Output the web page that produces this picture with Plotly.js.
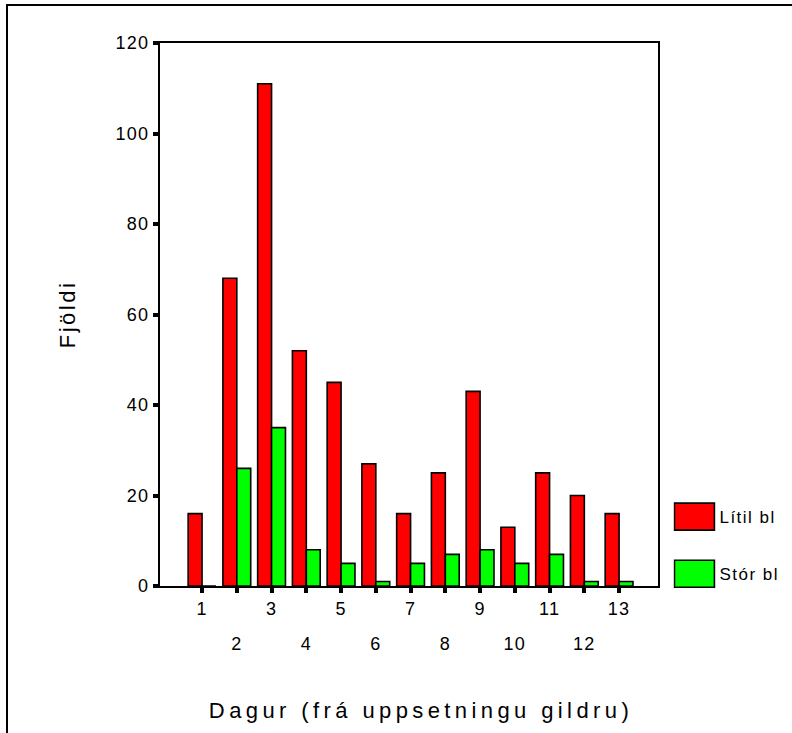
<!DOCTYPE html>
<html>
<head>
<meta charset="utf-8">
<script src="https://cdn.plot.ly/plotly-3.0.1.min.js"></script>
<style>
  html, body { margin: 0; padding: 0; background: #fff; overflow: hidden; }
  #wrap { position: relative; width: 792px; height: 733px; overflow: hidden; }
  #chart { width: 792px; height: 733px; }
  #frame { position: absolute; left: 6px; top: 4px; width: 900px; height: 900px;
           border-left: 2px solid #000; border-top: 2px solid #000; pointer-events: none; }
  .xtick text, .x2tick text, .ytick text { letter-spacing: 1.3px; }
  .xtitle { letter-spacing: 4.4px; transform: translateX(12px); }
  .ytitle { letter-spacing: 2.5px; }
  .legendtext { letter-spacing: 1.5px; }
</style>
</head>
<body>
<div id="wrap">
  <div id="chart"></div>
  <div id="frame"></div>
</div>
<script>
// ---- data ----
const days = [1, 2, 3, 4, 5, 6, 7, 8, 9, 10, 11, 12, 13];
const litilBl = [16, 68, 111, 52, 45, 27, 16, 25, 43, 13, 25, 20, 16];
const storBl  = [0, 26, 35, 8, 5, 1, 5, 7, 8, 5, 7, 1, 1];
const seriesNames = ['Lítil bl', 'Stór bl'];
const oddTicks = [1, 3, 5, 7, 9, 11, 13];
const evenTicks = [2, 4, 6, 8, 10, 12];
const yTicks = [0, 20, 40, 60, 80, 100, 120];
const xTitle = 'Dagur (frá uppsetningu gildru)';
const yTitle = 'Fjöldi';

const FONT = 'Arial, "Liberation Sans", sans-serif';

const traces = [
  {
    type: 'bar', x: days, y: litilBl, name: seriesNames[0], legendgroup: 'a',
    marker: { color: '#ff0000', line: { color: '#000', width: 1.6 } },
    hoverinfo: 'skip'
  },
  {
    type: 'bar', x: days, y: storBl, name: seriesNames[1], legendgroup: 'b',
    marker: { color: '#00ff00', line: { color: '#000', width: 1.6 } },
    hoverinfo: 'skip'
  },
  {
    type: 'scatter', mode: 'none', x: evenTicks, y: evenTicks.map(() => 0),
    xaxis: 'x2', yaxis: 'y', showlegend: false, hoverinfo: 'skip'
  }
];

const xr = [-0.21, 14.12];

const layout = {
  width: 792, height: 733,
  margin: { l: 160, r: 134, t: 43, b: 147, pad: 0, autoexpand: false },
  paper_bgcolor: '#fff', plot_bgcolor: '#fff',
  font: { family: FONT, color: '#000', size: 18 },
  barmode: 'group', bargap: 0.2, bargroupgap: 0,
  showlegend: true,
  legend: {
    x: 1.031, xanchor: 'left', y: 0.16, yanchor: 'top',
    font: { family: FONT, size: 17, color: '#000' },
    traceorder: 'grouped', tracegroupgap: 32, itemwidth: 36,
    bgcolor: 'rgba(0,0,0,0)', borderwidth: 0
  },
  xaxis: {
    range: xr, tickmode: 'array', tickvals: days,
    ticktext: days.map(d => (d % 2 === 1 ? String(d) : '')),
    ticks: 'outside', ticklen: 5, tickwidth: 4, tickcolor: '#000',
    showline: true, linecolor: '#000', linewidth: 2, mirror: true,
    showgrid: false, zeroline: false, fixedrange: true,
    tickfont: { family: FONT, size: 18, color: '#000' },
    ticklabelstandoff: 0,
    title: { text: xTitle, font: { family: FONT, size: 22, color: '#000' }, standoff: 85 }
  },
  xaxis2: {
    overlaying: 'x', anchor: 'y', side: 'bottom', range: xr,
    tickmode: 'array', tickvals: evenTicks, ticktext: evenTicks.map(String),
    ticks: '', showline: false, showgrid: false, zeroline: false, fixedrange: true,
    tickfont: { family: FONT, size: 18, color: '#000' },
    ticklabelstandoff: 45
  },
  yaxis: {
    range: [0, 120], tickmode: 'array', tickvals: yTicks,
    ticks: 'outside', ticklen: 5, tickwidth: 4, tickcolor: '#000',
    showline: true, linecolor: '#000', linewidth: 2, mirror: true,
    showgrid: false, zeroline: false, fixedrange: true,
    tickfont: { family: FONT, size: 18, color: '#000' },
    ticklabelstandoff: 0,
    title: { text: yTitle, font: { family: FONT, size: 22, color: '#000' }, standoff: 34 }
  }
};

Plotly.newPlot('chart', traces, layout, { staticPlot: true, displayModeBar: false }).then(function (gd) {
  // enlarge legend swatches to match the reference's wide boxes
  gd.querySelectorAll('.legendpoints path').forEach(function (p) {
    p.setAttribute('transform', 'translate(21,0) scale(3.33,2.25)');
    p.style.vectorEffect = 'non-scaling-stroke';
  });
});
</script>
</body>
</html>
